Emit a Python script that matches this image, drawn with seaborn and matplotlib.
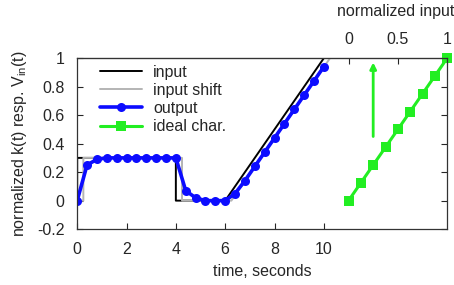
import numpy as np
import pandas as pd
import matplotlib
matplotlib.use("Agg")
import matplotlib.pyplot as plt
import seaborn as sns

# ---- data ----
input_t = [0, 0, 4, 4, 6, 10.4]
input_y = [0, 0.3, 0.3, 0, 0, 1.1]

shift_t = [0, 0.25, 0.25, 4.25, 4.25, 6.25, 10.65]
shift_y = [0, 0, 0.3, 0.3, 0, 0, 1.1]

output_t = [0, 0.4, 0.8, 1.2, 1.6, 2.0, 2.4, 2.8, 3.2, 3.6, 4.0, 4.4, 4.8, 5.2,
            5.6, 6.0, 6.4, 6.8, 7.2, 7.6, 8.0, 8.4, 8.8, 9.2, 9.6, 10.0]
output_y = [0, 0.25, 0.29, 0.30, 0.30, 0.30, 0.30, 0.30, 0.30, 0.30, 0.30, 0.07,
            0.02, 0.0, 0.0, 0.0, 0.05, 0.14, 0.24, 0.34, 0.44, 0.54, 0.64, 0.74,
            0.84, 0.94]

ideal_u = [0, 0.125, 0.25, 0.375, 0.5, 0.625, 0.75, 0.875, 1.0]
ideal_y = [0, 0.125, 0.25, 0.375, 0.5, 0.625, 0.75, 0.875, 1.0]

x_ticks = [0, 2, 4, 6, 8, 10]
y_ticks = [-0.2, 0, 0.2, 0.4, 0.6, 0.8, 1]
top_ticks = [0, 0.5, 1]
arrow_x, arrow_y0, arrow_y1 = 12, 0.45, 0.97

def u2t(u):
    return 11 + 4 * np.asarray(u, dtype=float)

def t2u(t):
    return (np.asarray(t, dtype=float) - 11) / 4

# ---- style ----
sns.set_style("ticks")
plt.rcParams['font.family'] = ['Liberation Sans', 'DejaVu Sans']
plt.rcParams['mathtext.fontset'] = 'custom'
plt.rcParams['mathtext.rm'] = 'Liberation Sans'
plt.rcParams['mathtext.it'] = 'Liberation Sans'

FS = 11.5
fig = plt.figure(figsize=(4.54, 2.85), dpi=100)
ax = fig.add_axes([0.170, 0.196, 0.815, 0.600])

green = '#22ee22'
sns.lineplot(x=input_t, y=input_y, sort=False, estimator=None, color='black',
             lw=1.4, ax=ax, label='input')
sns.lineplot(x=shift_t, y=shift_y, sort=False, estimator=None, color='#b4b4b4',
             lw=1.4, ax=ax, label='input shift')
sns.lineplot(x=output_t, y=output_y, sort=False, estimator=None, color='#0c0cff',
             lw=2.6, marker='o', markersize=6.5, markeredgewidth=0, ax=ax,
             label='output')
sns.lineplot(x=u2t(ideal_u), y=ideal_y, sort=False, estimator=None, color=green,
             lw=2.2, marker='s', markersize=6.5, markeredgewidth=0, ax=ax,
             label='ideal char.', clip_on=False)

ax.annotate('', xy=(arrow_x, arrow_y1), xytext=(arrow_x, arrow_y0),
            arrowprops=dict(arrowstyle='-|>', color=green, lw=2,
                            mutation_scale=9, shrinkA=0, shrinkB=0))

ax.set_xlim(0, 15)
ax.set_ylim(-0.2, 1)
ax.set_xticks(x_ticks)
ax.set_yticks(y_ticks)
ax.set_yticklabels(['-0.2', '0', '0.2', '0.4', '0.6', '0.8', '1'])
ax.tick_params(direction='in', labelsize=FS, length=4, width=0.8,
               right=True, pad=9)
ax.tick_params(axis='x', pad=9)
for s in ax.spines.values():
    s.set_visible(True)
    s.set_linewidth(0.9)
    s.set_color('#333333')

sec = ax.secondary_xaxis('top', functions=(t2u, u2t))
sec.set_xticks(top_ticks)
sec.set_xticklabels(['0', '0.5', '1'])
sec.tick_params(direction='in', labelsize=FS, length=4, width=0.8, pad=8)
ax.text(0.86, 1.27, 'normalized input', transform=ax.transAxes,
        ha='center', va='center', fontsize=FS)

ax.set_xlabel('time, seconds', fontsize=FS, labelpad=5)
ax.set_ylabel(r'normalized k(t) resp. V$_{\mathrm{in}}$(t)', fontsize=FS,
              labelpad=6)

ax.legend(loc='upper left', frameon=False, fontsize=FS, handlelength=2.6,
          borderaxespad=0.0, labelspacing=0.2, handletextpad=0.7,
          bbox_to_anchor=(0.045, 1.0))

fig.savefig('out.png', dpi=100)
